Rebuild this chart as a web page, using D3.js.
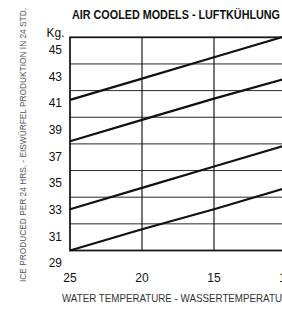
<!DOCTYPE html>
<html>
<head>
<meta charset="utf-8">
<script src="https://cdn.jsdelivr.net/npm/d3@7"></script>
<style>
  html, body { margin: 0; padding: 0; background: #fff; }
  svg { display: block; }
</style>
</head>
<body>
<svg id="chart" width="282" height="318"></svg>
<script>
// ---- data ----
const temps = [25, 20, 15, 10];
const series1 = [40.3, 41.9, 43.5, 45.1];
const series2 = [37.2, 38.8, 40.4, 41.9];
const series3 = [32.1, 33.7, 35.3, 36.9];
const series4 = [29.0, 30.6, 32.1, 33.7];
const yTicks = [29, 31, 33, 35, 37, 39, 41, 43, 45];
const xTicks = [25, 20, 15, 10];
const titleText = "AIR COOLED MODELS - LUFTKÜHLUNG";
const yTitle = "ICE PRODUCED PER 24 HRS. - EISWÜRFEL PRODUKTION IN 24 STD.";
const xTitle = "WATER TEMPERATURE - WASSERTEMPERATUR";
const unitLabel = "Kg.";

// ---- layout ----
const svg = d3.select("#chart");
const x = d3.scaleLinear().domain([25, 10]).range([70, 286]);
const y = d3.scaleLinear().domain([29, 45]).range([250.5, 37.3]);

const numFont = "'Liberation Sans', Arial, Helvetica, sans-serif";
const narrowFont = "'Liberation Sans', Arial, Helvetica, sans-serif";

// gridlines horizontal
svg.append("g").selectAll("line")
  .data(yTicks.filter(v => v > 29 && v < 45))
  .join("line")
  .attr("x1", x(25)).attr("x2", x(10))
  .attr("y1", d => y(d)).attr("y2", d => y(d))
  .attr("stroke", "#2a2a2a").attr("stroke-width", 1);

// gridlines vertical
svg.append("g").selectAll("line")
  .data(xTicks.filter(v => v < 25 && v > 10))
  .join("line")
  .attr("x1", d => x(d)).attr("x2", d => x(d))
  .attr("y1", y(45)).attr("y2", y(29))
  .attr("stroke", "#1a1a1a").attr("stroke-width", 1.2);

// border
svg.append("rect")
  .attr("x", x(25)).attr("y", y(45))
  .attr("width", x(10) - x(25)).attr("height", y(29) - y(45))
  .attr("fill", "none").attr("stroke", "#1a1a1a").attr("stroke-width", 1.8);

// series lines
const line = d3.line().x(d => x(d[0])).y(d => y(d[1]));
const allSeries = [series1, series2, series3, series4];
svg.append("g").selectAll("path")
  .data(allSeries)
  .join("path")
  .attr("d", s => line(temps.map((t, i) => [t, s[i]])))
  .attr("fill", "none").attr("stroke", "#111").attr("stroke-width", 2.2);

// y tick labels (offset below gridline as in the original)
svg.append("g").selectAll("text")
  .data(yTicks)
  .join("text")
  .attr("x", 62).attr("y", d => y(d) + 16.7)
  .attr("text-anchor", "end")
  .attr("font-family", numFont).attr("font-size", 12)
  .attr("fill", "#111")
  .text(d => d);

// unit label
svg.append("text")
  .attr("x", 46.5).attr("y", 37)
  .attr("font-family", numFont).attr("font-size", 12)
  .attr("fill", "#111")
  .text(unitLabel);

// x tick labels
svg.append("g").selectAll("text")
  .data(xTicks)
  .join("text")
  .attr("x", d => x(d)).attr("y", 281.7)
  .attr("text-anchor", "middle")
  .attr("font-family", numFont).attr("font-size", 12)
  .attr("fill", "#111")
  .text(d => d);

// title
svg.append("text")
  .attr("x", 72).attr("y", 19)
  .attr("font-family", narrowFont).attr("font-size", 13).attr("font-weight", "bold")
  .attr("fill", "#111")
  .attr("textLength", 208).attr("lengthAdjust", "spacingAndGlyphs")
  .text(titleText);

// y-axis title (rotated)
svg.append("text")
  .attr("transform", "translate(26,282) rotate(-90)")
  .attr("font-family", narrowFont).attr("font-size", 9.8)
  .attr("fill", "#555")
  .attr("textLength", 274).attr("lengthAdjust", "spacingAndGlyphs")
  .text(yTitle);

// x-axis title
svg.append("text")
  .attr("x", 62).attr("y", 302)
  .attr("font-family", narrowFont).attr("font-size", 10.2)
  .attr("fill", "#333")
  .attr("textLength", 227).attr("lengthAdjust", "spacingAndGlyphs")
  .text(xTitle);
</script>
</body>
</html>
